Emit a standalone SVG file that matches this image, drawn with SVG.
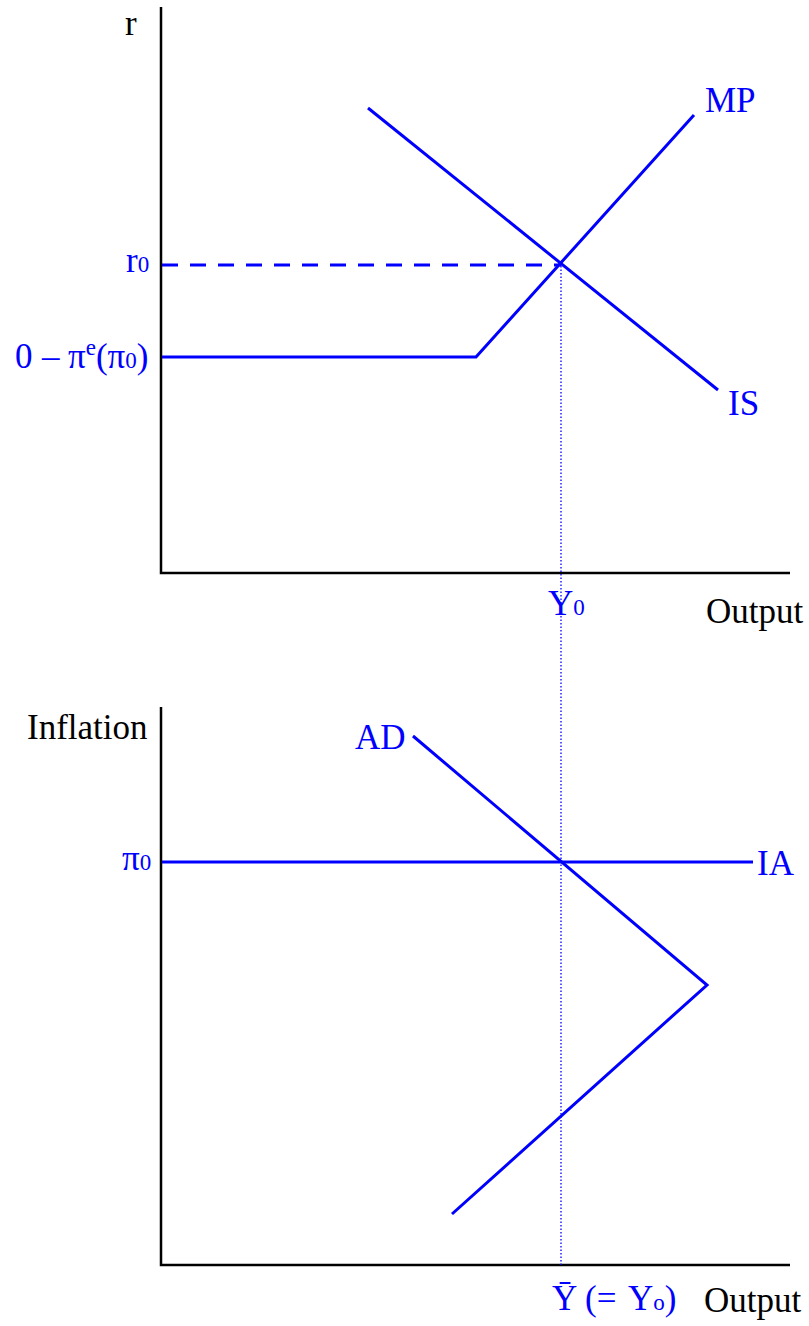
<svg xmlns="http://www.w3.org/2000/svg" width="809" height="1326" viewBox="0 0 809 1326">
<style>
.ax{stroke:#000;stroke-width:2.5;fill:none}
.cv{stroke:#0000ff;stroke-width:3;fill:none;stroke-linejoin:miter}
.dash{stroke:#0000ff;stroke-width:3;fill:none;stroke-dasharray:16 12}
.dot{stroke:#0000ff;stroke-width:1.3;fill:none;stroke-dasharray:1.5 2}
text{font-family:"Liberation Serif","Times New Roman",serif;font-size:35px}
.k{fill:#000}
.b{fill:#0000ff}
.sub{font-size:23px}
</style>
<rect width="809" height="1326" fill="#fff"/>
<g id="top-axes">
<path class="ax" d="M161,7 V573 H790"/>
<text class="k" x="125" y="35">r</text>
<text class="k" x="706" y="623">Output</text>
</g>
<g id="bottom-axes">
<path class="ax" d="M161,707 V1265 H790"/>
<text class="k" x="27" y="739">Inflation</text>
<text class="k" x="704" y="1312">Output</text>
</g>
<g id="connectors">
<path class="dash" d="M162,265 H561"/>
<path class="dot" d="M561,266 V1265"/>
</g>
<g id="IS">
<path class="cv" d="M368,108 L718,390"/>
<text class="b" x="728" y="415">IS</text>
</g>
<g id="MP">
<path class="cv" d="M162,357 H476 L694,115"/>
<text class="b" x="705" y="112">MP</text>
</g>
<g id="labels-top">
<text class="b" x="126" y="272">r<tspan class="sub">0</tspan></text>
<text class="b" y="368"><tspan x="15">0</tspan><tspan x="42">–</tspan><tspan x="68">π</tspan><tspan font-size="23px" dy="-13">e</tspan><tspan dy="13">(π</tspan><tspan class="sub">0</tspan>)</text>
<text class="b" x="548" y="615">Y<tspan class="sub">0</tspan></text>
</g>
<g id="IA">
<path class="cv" d="M162,862 H753"/>
<text class="b" x="757" y="875">IA</text>
<text class="b" x="122" y="870">π<tspan class="sub">0</tspan></text>
</g>
<g id="AD">
<path class="cv" d="M413,736 L707,985 L452,1214"/>
<text class="b" x="355" y="749">AD</text>
</g>
<g id="labels-bottom">
<text class="b" y="1310"><tspan x="552">Ȳ</tspan><tspan x="585">(=</tspan><tspan x="628">Y</tspan><tspan class="sub">o</tspan>)</text>
</g>
</svg>
